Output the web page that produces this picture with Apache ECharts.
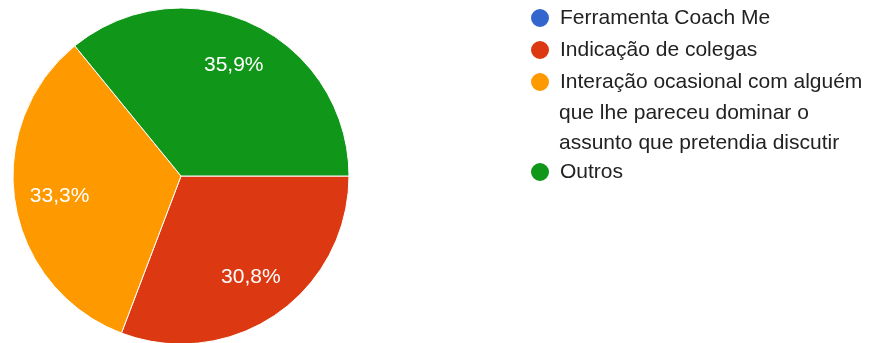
<!DOCTYPE html>
<html>
<head>
<meta charset="utf-8">
<script src="https://cdn.jsdelivr.net/npm/echarts@6/dist/echarts.min.js"></script>
<style>
  html, body { margin: 0; padding: 0; background: #fff; }
  #chart { width: 874px; height: 343px; }
</style>
</head>
<body>
<div id="chart"></div>
<script>
// respostas (contagem por opção)
var categories = ['Ferramenta Coach Me', 'Indicação de colegas', 'Interação ocasional com alguém', 'Outros'];
var counts = [0, 12, 13, 14];
var colors = ['#3366cc', '#dc3912', '#ff9900', '#109618'];
// resto do texto da 3a opção na legenda
var extraLines = ['que lhe pareceu dominar o', 'assunto que pretendia discutir'];

var font = 'Arial, "Liberation Sans", sans-serif';

var pieData = [];
for (var i = 0; i < categories.length; i++) {
    pieData.push({ name: categories[i], value: counts[i], itemStyle: { color: colors[i] } });
}

function pct(p) {
    if (!p.value) return '';
    return p.percent.toFixed(1).replace('.', ',') + '%';
}

var legendText = { fontSize: 21, color: '#222', fontFamily: font, lineHeight: 32, padding: [0, 0, 0, 5] };

var myChart = echarts.init(document.getElementById('chart'));
var option = {
    animation: false,
    title: {
        text: extraLines.join('\n'),
        left: 559,
        top: 98,
        padding: 0,
        textStyle: { fontSize: 21, fontWeight: 'normal', color: '#222', fontFamily: font, lineHeight: 30 }
    },
    legend: [
        {
            orient: 'vertical',
            left: 529, top: 2, padding: 0,
            itemGap: 0, itemWidth: 20, itemHeight: 20,
            icon: 'circle',
            selectedMode: false,
            data: categories.slice(0, 3),
            textStyle: legendText
        },
        {
            orient: 'vertical',
            left: 529, top: 156, padding: 0,
            itemGap: 0, itemWidth: 20, itemHeight: 20,
            icon: 'circle',
            selectedMode: false,
            data: categories.slice(3),
            textStyle: legendText
        }
    ],
    series: [
        {
            type: 'pie',
            center: [181, 176],
            radius: 168,
            startAngle: 0,
            clockwise: true,
            data: pieData,
            itemStyle: { borderColor: '#fff', borderWidth: 1 },
            label: { show: false },
            labelLine: { show: false },
            emphasis: { disabled: true }
        },
        {
            // só para posicionar os rótulos mais para fora
            type: 'pie',
            center: [181, 176],
            radius: [72, 168],
            startAngle: 0,
            clockwise: true,
            silent: true,
            legendHoverLink: false,
            data: pieData.map(function (d) { return { name: d.name, value: d.value }; }),
            itemStyle: { color: 'rgba(0,0,0,0)', borderWidth: 0 },
            label: {
                show: true,
                position: 'inside',
                formatter: pct,
                color: '#fff',
                fontSize: 21,
                fontFamily: font
            },
            labelLine: { show: false },
            emphasis: { disabled: true }
        }
    ]
};
myChart.setOption(option);
</script>
</body>
</html>
